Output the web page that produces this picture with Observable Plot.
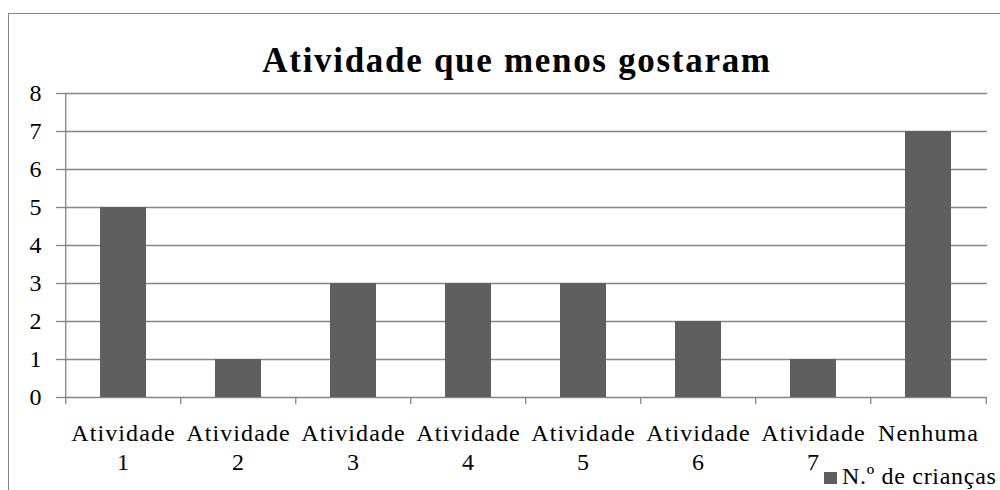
<!DOCTYPE html>
<html>
<head>
<meta charset="utf-8">
<script src="https://cdn.jsdelivr.net/npm/d3@7"></script>
<script src="https://cdn.jsdelivr.net/npm/@observablehq/plot@0.6"></script>
<style>
  html, body { margin: 0; padding: 0; background: #fff; }
  body { width: 1000px; height: 490px; overflow: hidden; position: relative; font-family: "Liberation Serif", "Tinos", "Times New Roman", "DejaVu Serif", serif; }
  #border { position: absolute; left: 8px; top: 13px; width: 1100px; height: 600px; border: 1.3px solid #868686; box-sizing: border-box; }
  #chart { position: absolute; left: 0; top: 0; }
  #title { position: absolute; left: 517px; top: 43px; transform: translateX(-50%); font-size: 35px; line-height: 35px; font-weight: bold; letter-spacing: 1.7px; white-space: nowrap; color: #000; }
  #legend { position: absolute; left: 824px; top: 464px; font-size: 24px; line-height: 24px; white-space: nowrap; color: #000; }
  #legend .sw { position: absolute; left: 0; top: 8px; width: 13px; height: 12px; background: #5f5f5f; }
  #legend .lb { position: absolute; left: 18px; top: 0; letter-spacing: 0.7px; }
  #chart svg g[aria-label="text"] text { letter-spacing: 1.1px; }
</style>
</head>
<body>
<div id="border"></div>
<div id="chart"></div>
<div id="title">Atividade que menos gostaram</div>
<div id="legend"><span class="sw"></span><span class="lb">N.º de crianças</span></div>
<script>
const categories = ["Atividade 1", "Atividade 2", "Atividade 3", "Atividade 4", "Atividade 5", "Atividade 6", "Atividade 7", "Nenhuma"];
const values = [5, 1, 3, 3, 3, 2, 1, 7];
const yTicks = [0, 1, 2, 3, 4, 5, 6, 7, 8];
const seriesName = "N.º de crianças";

const data = categories.map((c, i) => ({category: c, value: values[i]}));

const W = 1000, H = 490, mL = 63, mR = 13, mT = 93, mB = 93;
const step = (W - mL - mR) / categories.length;
const grid = "#868686";
const barColor = "#5f5f5f";

const chart = Plot.plot({
  width: W,
  height: H,
  marginLeft: mL,
  marginRight: mR,
  marginTop: mT,
  marginBottom: mB,
  style: {fontFamily: "'Liberation Serif', Tinos, 'Times New Roman', 'DejaVu Serif', serif", fontSize: "24px", color: "#000", background: "transparent", overflow: "visible"},
  x: {domain: categories, paddingInner: 0.6, paddingOuter: 0.3, axis: null},
  y: {domain: [0, 8], axis: null},
  marks: [
    Plot.ruleY(yTicks, {y: d => d, stroke: grid, strokeWidth: 1.3}),
    Plot.barY(data, {x: "category", y: "value", fill: barColor}),
    Plot.ruleX([categories[0]], {x: d => d, dx: -step / 2, y1: 8, y2: 0, stroke: grid, strokeWidth: 1.3}),
    Plot.ruleX(categories, {x: d => d, dx: -step / 2, y1: 0, y2: 0, insetBottom: -7, stroke: grid, strokeWidth: 1.3}),
    Plot.ruleX([categories[categories.length - 1]], {x: d => d, dx: step / 2, y1: 0, y2: 0, insetBottom: -7, stroke: grid, strokeWidth: 1.3}),
    Plot.axisY({ticks: yTicks, label: null, tickSize: 7, tickPadding: 15, stroke: grid, strokeWidth: 1.3, fill: "#000", fontSize: 24, tickFormat: d => String(d)}),
    Plot.text(categories, {
      x: d => d,
      text: d => d.replace(" ", "\n"),
      frameAnchor: "bottom",
      lineAnchor: "top",
      dy: 23,
      lineHeight: 1.2,
      fill: "#000",
      fontSize: 24,
      textAnchor: "middle"
    })
  ]
});
document.getElementById("chart").appendChild(chart);
</script>
</body>
</html>
